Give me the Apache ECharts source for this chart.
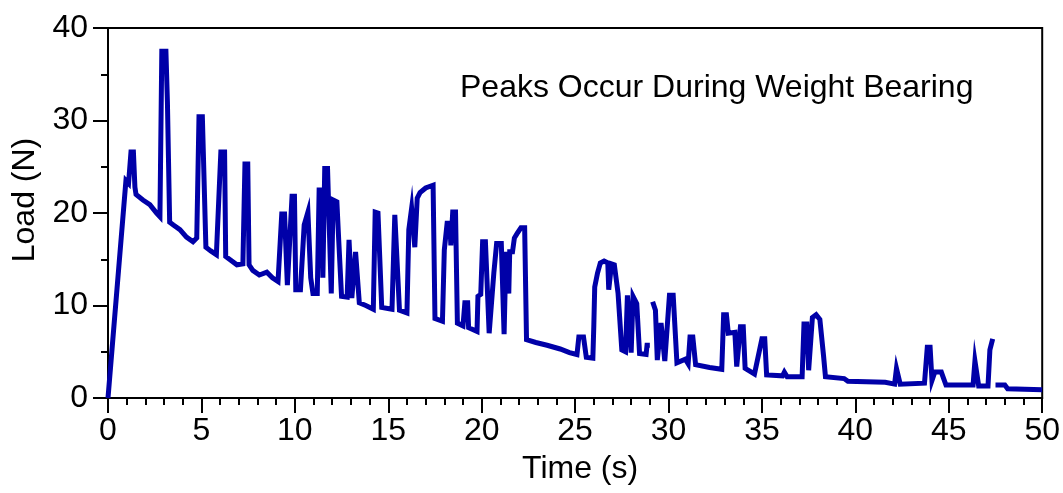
<!DOCTYPE html>
<html>
<head>
<meta charset="utf-8">
<script src="https://cdn.jsdelivr.net/npm/echarts@6/dist/echarts.min.js"></script>
<style>
html,body{margin:0;padding:0;background:#fff;}
#chart{width:1063px;height:493px;}
</style>
</head>
<body>
<div id="chart"></div>
<script>
// Time (s)
const timeS = [
0,0.96,1.1,1.23,1.36,1.44,1.5,1.87,2.24,2.6,2.78,2.88,3.1,3.18,3.3,3.5,3.85,4.2,4.55,4.75,
4.87,5.05,5.24,5.5,5.8,6.04,6.24,6.3,6.5,6.9,7.22,7.33,7.48,7.55,7.75,8.1,8.5,8.8,9.1,9.3,
9.45,9.6,9.85,9.98,10.05,10.3,10.5,10.6,10.7,10.8,10.85,10.97,11.2,11.3,11.45,11.5,11.6,11.75,11.95,12.05,
12.25,12.35,12.5,12.8,12.9,12.97,13.05,13.25,13.35,13.45,13.8,14.2,14.3,14.45,14.65,15.2,15.35,15.45,15.6,16.0,
16.1,16.25,16.35,16.42,16.55,16.7,17.0,17.4,17.5,17.9,18.0,18.15,18.3,18.35,18.45,18.6,18.7,19.0,19.1,19.25,
19.3,19.75,19.8,19.95,20.05,20.2,20.4,20.65,20.8,21.05,21.2,21.3,21.38,21.45,21.5,21.65,21.75,21.9,22.1,22.3,
22.4,22.9,23.5,24.2,24.7,25.1,25.2,25.45,25.6,25.95,26.0,26.05,26.2,26.35,26.55,26.75,26.8,26.95,27.1,27.3,
27.5,27.7,27.8,27.9,28.0,28.1,28.3,28.45,28.8,28.85,29.0,29.07,29.15,29.3,29.4,29.6,29.8,30.05,30.25,30.45,
30.9,31.05,31.15,31.3,31.45,32.2,32.85,32.95,33.1,33.2,33.55,33.65,33.85,34.0,34.1,34.6,35.0,35.15,35.25,36.1,
36.2,36.35,37.15,37.25,37.4,37.5,37.7,37.9,38.1,38.3,38.4,39.4,39.6,41.6,42.1,42.2,42.3,42.4,43.7,43.85,
44.0,44.1,44.25,44.6,44.85,46.3,46.4,46.5,46.6,47.1,47.2,47.35,47.42,47.5,48.0,48.15,50.0
];
// Load (N); null marks a break in the trace
const loadN = [
0,23.5,23.2,26.6,26.6,22.8,22.0,21.4,20.9,20.0,19.6,37.5,37.5,32.0,19.0,18.7,18.2,17.4,16.9,17.3,
30.4,30.4,16.3,15.9,15.5,26.6,26.6,15.3,15.0,14.4,14.5,25.3,25.3,14.4,13.8,13.3,13.6,13.0,12.6,19.9,
19.9,12.2,21.8,21.8,11.7,11.7,18.7,18.7,20.1,20.1,13.0,11.3,11.3,22.5,22.5,13.0,24.8,24.8,11.3,21.4,
21.2,17.0,11.0,10.9,17.1,17.1,10.8,15.8,15.8,10.3,10.0,9.6,20.1,20.0,9.8,9.6,19.8,19.8,9.5,9.2,
18.2,20.5,20.5,16.3,21.6,22.2,22.7,23.0,8.6,8.3,16.0,18.9,18.9,16.5,20.1,20.1,8.1,7.8,10.3,10.3,
7.6,7.2,11.0,11.2,16.9,16.9,7.0,13.5,16.7,16.7,6.9,15.8,15.8,11.3,15.8,15.8,17.3,17.8,18.4,18.4,
6.3,6.0,5.7,5.3,4.9,4.7,6.6,6.6,4.4,4.3,7.7,12.0,13.5,14.6,14.8,14.6,11.7,14.5,14.4,11.3,
5.2,5.0,11.1,11.1,4.9,11.0,10.2,4.8,4.7,5.7,5.7,null,10.4,9.5,4.1,8.1,4.0,11.1,11.1,3.8,
4.2,3.7,6.6,6.6,3.6,3.3,3.1,9.0,9.0,7.0,7.1,3.4,7.7,7.7,3.2,2.6,6.4,6.4,2.5,2.4,
2.8,2.3,2.3,8.0,8.0,3.0,8.7,9.0,8.5,4.5,2.3,2.1,1.8,1.7,1.5,3.2,3.2,1.5,1.6,5.5,
5.5,1.9,2.8,2.8,1.4,1.4,4.0,4.0,1.3,1.3,5.2,6.4,null,1.4,1.4,1.0,0.9
];
const xTicks = [0,5,10,15,20,25,30,35,40,45,50];
const yTicks = [0,10,20,30,40];
const noteText = 'Peaks Occur During Weight Bearing';
const xTitle = 'Time (s)';
const yTitle = 'Load (N)';

const data = timeS.map((t, i) => [t, loadN[i]]);
const font = 'Liberation Sans, Arial, sans-serif';
const fs = 32;

const chart = echarts.init(document.getElementById('chart'), null, {renderer: 'canvas'});
chart.setOption({
  animation: false,
  backgroundColor: '#ffffff',
  grid: {left: 108, right: 20, top: 28, bottom: 95, show: true, borderColor: '#000', borderWidth: 2, backgroundColor: 'transparent'},
  xAxis: {
    type: 'value', min: xTicks[0], max: xTicks[xTicks.length - 1], interval: 5,
    name: xTitle, nameLocation: 'middle', nameGap: 55,
    nameTextStyle: {fontSize: fs, color: '#000', fontFamily: font, padding: [0, 0, 0, 10]},
    axisLine: {show: true, lineStyle: {color: '#000', width: 2}},
    axisTick: {show: true, inside: false, length: 15, lineStyle: {color: '#000', width: 2}},
    minorTick: {show: true, splitNumber: 5, length: 7, lineStyle: {color: '#000', width: 2}},
    axisLabel: {fontSize: fs, color: '#000', fontFamily: font, margin: 17},
    splitLine: {show: false}
  },
  yAxis: {
    type: 'value', min: yTicks[0], max: yTicks[yTicks.length - 1], interval: 10,
    name: yTitle, nameLocation: 'middle', nameGap: 64, nameRotate: 90,
    nameTextStyle: {fontSize: fs, color: '#000', fontFamily: font, padding: [0, 0, 0, 26]},
    axisLine: {show: true, lineStyle: {color: '#000', width: 2}},
    axisTick: {show: true, inside: false, length: 15, lineStyle: {color: '#000', width: 2}},
    minorTick: {show: true, splitNumber: 2, length: 7, lineStyle: {color: '#000', width: 2}},
    axisLabel: {fontSize: fs, color: '#000', fontFamily: font, margin: 20},
    splitLine: {show: false}
  },
  graphic: [{
    type: 'text', left: 460, top: 72, z: 100,
    style: {text: noteText, fontSize: fs, fill: '#000', fontFamily: font}
  }],
  series: [{
    type: 'line', data: data, showSymbol: false, connectNulls: false,
    lineStyle: {color: '#0000A8', width: 5, join: 'miter'},
    clip: true
  }]
});
</script>
</body>
</html>
